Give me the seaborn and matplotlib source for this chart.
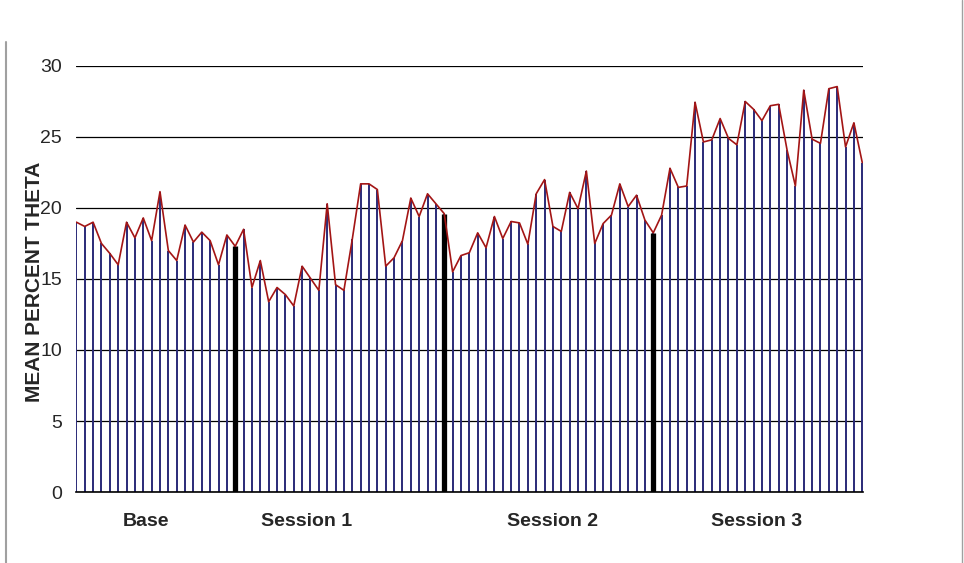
import numpy as np
import matplotlib
matplotlib.use("Agg")
import matplotlib.pyplot as plt
import seaborn as sns
from matplotlib.lines import Line2D

# mean percent theta for each epoch
theta = [19.0, 18.7, 19.0, 17.5, 16.8, 16.0, 19.0, 17.9, 19.3, 17.7, 21.15, 17.0, 16.3, 18.8, 17.6, 18.3,
         17.7, 16.0, 18.1, 17.3, 18.5, 14.4, 16.3, 13.4, 14.4, 13.9, 13.1, 15.9, 15.05, 14.2, 20.3,
         14.6, 14.2, 17.8, 21.7, 21.7, 21.3, 15.9, 16.5, 17.7, 20.7, 19.4, 21.0, 20.3, 19.6, 15.5, 16.65,
         16.85, 18.25, 17.2, 19.4, 17.85, 19.05, 18.95, 17.45, 21.0, 22.0, 18.7, 18.35, 21.1, 19.95, 22.6, 17.5,
         18.9, 19.5, 21.7, 20.1, 20.9, 19.15, 18.25, 19.5, 22.8, 21.45, 21.55, 27.45, 24.65, 24.8, 26.3, 24.9,
         24.45, 27.5, 26.95, 26.15, 27.2, 27.3, 24.1, 21.55, 28.3, 24.85, 24.55, 28.4, 28.55, 24.3, 26.0, 23.2]
separators = [19, 44, 69]          # epochs drawn as thick black bars
phases = ["Base", "Session 1", "Session 2", "Session 3"]
phase_pos = [8.3, 27.5, 56.9, 81.4]
yticks = [0, 5, 10, 15, 20, 25, 30]

sns.set_style("white")
plt.rcParams["font.family"] = ["Liberation Sans", "DejaVu Sans"]

x = np.arange(len(theta))
y = np.array(theta)

fig = plt.figure(figsize=(9.64, 5.63), dpi=100)
ax = fig.add_axes([0.0788, 0.1261, 0.8161, 0.7567])

ax.set_axisbelow(True)
ax.yaxis.grid(True, color="black", linewidth=0.9)

ax.vlines(x, 0, y, colors="#2a2a78", linewidth=1.4, zorder=2)
ax.vlines(x[separators], 0, y[separators], colors="black", linewidth=3.8, zorder=3)
sns.lineplot(x=x, y=y, color="#a31515", linewidth=1.2, ax=ax, zorder=4)

ax.set_xlim(-0.05, len(theta) - 0.95)
ax.set_ylim(0, 30)
ax.set_yticks(yticks)
ax.set_yticklabels([str(t) for t in yticks], fontsize=14)
ax.set_xticks(phase_pos)
ax.set_xticklabels(phases, fontsize=14, fontweight="bold")
ax.tick_params(axis="y", length=0, pad=10)
ax.tick_params(axis="x", length=0, pad=15)

for s in ["top", "right", "left"]:
    ax.spines[s].set_visible(False)
ax.spines["bottom"].set_color("black")
ax.spines["bottom"].set_linewidth(1.2)

ax.set_xlabel("")
ax.set_ylabel("")
fig.text(0.036, 0.50, "MEAN PERCENT THETA", rotation=90, fontsize=15,
         fontweight="bold", ha="center", va="center")

# frame lines at the picture edges
fig.add_artist(Line2D([0.006, 0.006], [0.0, 0.925], color="#a0a0a0", linewidth=1.5))
fig.add_artist(Line2D([0.998, 0.998], [0.0, 1.0], color="#a0a0a0", linewidth=1.0))

fig.savefig("out.png", dpi=100)
